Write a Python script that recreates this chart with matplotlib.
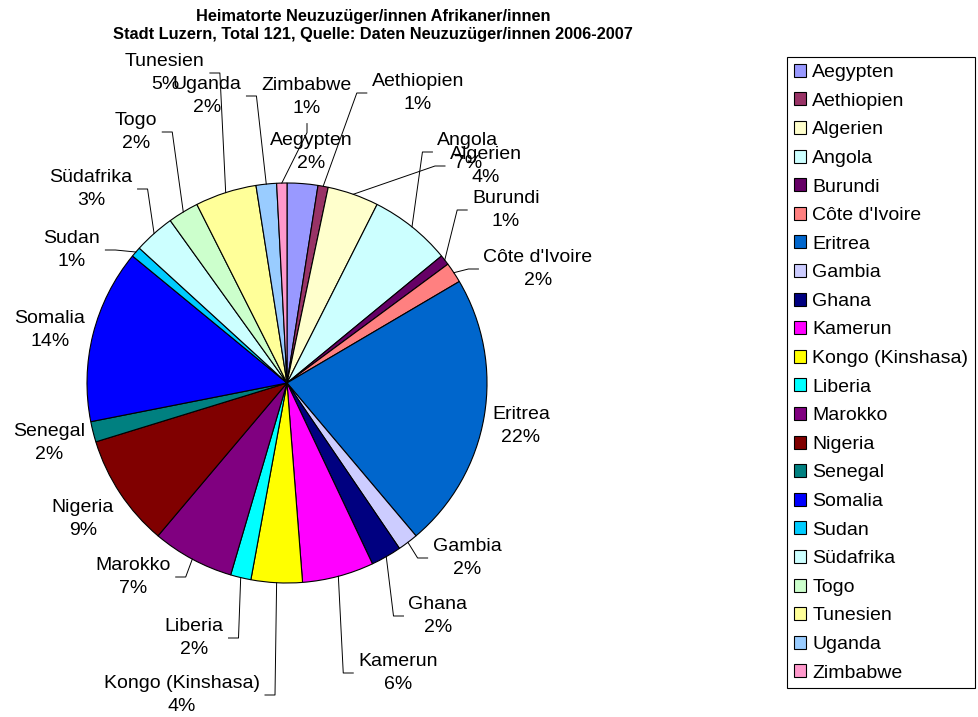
import numpy as np
import matplotlib.pyplot as plt

plt.rcParams['font.family'] = ['Liberation Sans', 'DejaVu Sans']

countries = ['Aegypten', 'Aethiopien', 'Algerien', 'Angola', 'Burundi', "Côte d'Ivoire",
             'Eritrea', 'Gambia', 'Ghana', 'Kamerun', 'Kongo (Kinshasa)', 'Liberia',
             'Marokko', 'Nigeria', 'Senegal', 'Somalia', 'Sudan', 'Südafrika', 'Togo',
             'Tunesien', 'Uganda', 'Zimbabwe']
counts = [3, 1, 5, 8, 1, 2, 27, 2, 3, 7, 5, 2, 8, 11, 2, 17, 1, 4, 3, 6, 2, 1]
colors = ['#9999FF', '#993366', '#FFFFCC', '#CCFFFF', '#660066', '#FF8080',
          '#0066CC', '#CCCCFF', '#000080', '#FF00FF', '#FFFF00', '#00FFFF',
          '#800080', '#800000', '#008080', '#0000FF', '#00CCFF', '#CCFFFF',
          '#CCFFCC', '#FFFF99', '#99CCFF', '#FF99CC']

# label placement in pixels (centre x, centre y, side the leader line arrives on)
label_pos = [(311, 152, ''), (418, 93, 'l'), (486, 166, 'l'), (468, 152, 'l'),
             (506, 210, 'l'), (538, 269, 'l'), (521, 426, ''), (467, 558, 'l'),
             (438, 616, 'l'), (398, 673, 'l'), (182, 695, 'r'), (194, 638, 'r'),
             (133, 577, 'r'), (83, 519, ''), (49, 443, ''), (50, 330, ''),
             (72, 250, 'r'), (91, 189, 'r'), (136, 132, 'r'), (165, 73, 'r'),
             (207, 96, 'r'), (307, 97, 'b')]

W, H = 979, 717
cx, cy, R = 287, 383, 200

fig = plt.figure(figsize=(W / 100, H / 100), dpi=100)
ax = fig.add_axes([0, 0, 1, 1])

wedges, _ = ax.pie(counts, colors=colors, startangle=-90, counterclock=True,
                   center=(cx, cy), radius=R,
                   wedgeprops=dict(edgecolor='black', linewidth=0.8))
ax.set_xlim(0, W)
ax.set_ylim(H, 0)
ax.set_aspect('auto')
ax.axis('off')

total = sum(counts)
texts = []
for name, n, (lx, ly, side) in zip(countries, counts, label_pos):
    pct = int(round(n / total * 100))
    t = ax.text(lx, ly, f'{name}\n{pct}%', ha='center', va='center',
                fontsize=14, linespacing=1.4)
    texts.append(t)

fig.canvas.draw()
renderer = fig.canvas.get_renderer()
inv = ax.transData.inverted()
for w, t, (lx, ly, side) in zip(wedges, texts, label_pos):
    if not side:
        continue
    mid = np.deg2rad((w.theta1 + w.theta2) / 2)
    px, py = cx + R * np.cos(mid), cy + R * np.sin(mid)
    bb = t.get_window_extent(renderer)
    (x0, y0), (x1, y1) = inv.transform([[bb.x0, bb.y0], [bb.x1, bb.y1]])
    bottom = max(y0, y1)
    if side == 'l':
        xs = [px, x0 - 15, x0 - 5]
        ys = [py, ly, ly]
    elif side == 'r':
        xs = [px, x1 + 15, x1 + 5]
        ys = [py, ly, ly]
    else:
        xs = [px, lx, lx]
        ys = [py, bottom + 16, bottom + 7]
    ax.plot(xs, ys, color='black', linewidth=0.7)

ax.text(373, 26, 'Heimatorte Neuzuzüger/innen Afrikaner/innen\n'
        'Stadt Luzern, Total 121, Quelle: Daten Neuzuzüger/innen 2006-2007',
        ha='center', va='center', fontsize=11.8, fontweight='bold', linespacing=1.25)

leg = fig.legend(wedges, countries, loc='upper left',
                 bbox_to_anchor=(787 / W, 1 - 57 / H), borderaxespad=0,
                 fancybox=False, edgecolor='black', framealpha=1,
                 fontsize=14, labelspacing=0.58, handlelength=0.65,
                 handleheight=0.65, handletextpad=0.3, borderpad=0.35)
leg.get_frame().set_linewidth(0.8)

fig.savefig('out.png', dpi=100)
